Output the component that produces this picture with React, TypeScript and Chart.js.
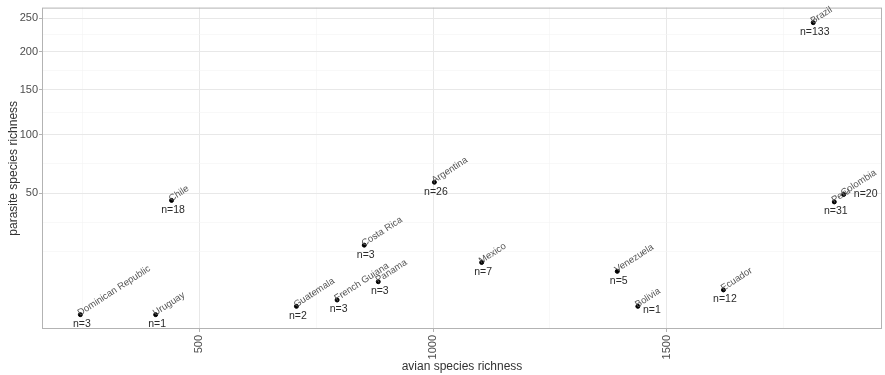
import React, { useEffect, useRef } from 'react';
import { Chart, registerables, LinearScale } from 'chart.js';

// ---- data ----
const countries = ['Dominican Republic', 'Uruguay', 'Chile', 'Guatemala', 'French Guiana', 'Costa Rica', 'Panama', 'Argentina', 'Mexico', 'Venezuela', 'Bolivia', 'Ecuador', 'Peru', 'Colombia', 'Brazil'];
const avianRichness = [246, 407, 441, 708, 795, 853, 883, 1003, 1104, 1394, 1438, 1621, 1858, 1878, 1813];
const parasiteRichness = [1, 1, 45, 2, 3, 20, 7, 58, 13, 10, 2, 5, 44, 49, 243];
const nStudies = [3, 1, 18, 2, 3, 3, 3, 26, 7, 5, 1, 12, 31, 20, 133];

const xMajorTicks = [500, 1000, 1500];
const yMajorTicks = [50, 100, 150, 200, 250];
const X_MIN = 164, X_MAX = 1960;
const Y_MIN = 0.08, Y_MAX = 267;

// label placement exceptions (center offsets of the n= label, px)
const N_LABEL_OFFSET: Record<string, [number, number]> = { Bolivia: [14, 4], Colombia: [22, 0] };

const FONT = '"Liberation Sans", Arial, Helvetica, sans-serif';

class SqrtScale extends LinearScale {
  static id = 'sqrt';
  static defaults = LinearScale.defaults;
  getPixelForValue(value: number) {
    const s0 = Math.sqrt(Math.max(0, this.min));
    const s1 = Math.sqrt(Math.max(0, this.max));
    const v = Math.sqrt(Math.max(0, value));
    return this.getPixelForDecimal((v - s0) / (s1 - s0));
  }
  getValueForPixel(pixel: number) {
    const s0 = Math.sqrt(Math.max(0, this.min));
    const s1 = Math.sqrt(Math.max(0, this.max));
    const d = this.getDecimalForPixel(pixel);
    const s = s0 + d * (s1 - s0);
    return s * s;
  }
}

Chart.register(...registerables, SqrtScale as any);

// ggplot-like minor breaks (midpoints in transformed space)
function minorBreaks(majors: number[], min: number, max: number, tf: (v: number) => number, inv: (v: number) => number) {
  const b = majors.map(tf);
  const bd = b[1] - b[0];
  if (tf(min) < b[0]) b.unshift(b[0] - bd);
  if (tf(max) > b[b.length - 1]) b.push(b[b.length - 1] + bd);
  const out: number[] = [];
  for (let i = 0; i < b.length - 1; i++) {
    out.push(b[i], (b[i] + b[i + 1]) / 2);
  }
  out.push(b[b.length - 1]);
  const tmin = tf(min), tmax = tf(max);
  return out.filter((v) => v >= tmin && v <= tmax).map(inv);
}

const isMajor = (v: number, majors: number[]) => majors.some((m) => Math.abs(m - v) < 1e-6);

const panelPlugin = {
  id: 'panelBorder',
  beforeDatasetsDraw(chart: any) {
    const { ctx, chartArea } = chart;
    ctx.save();
    ctx.strokeStyle = '#b3b3b3';
    ctx.lineWidth = 1;
    ctx.strokeRect(chartArea.left + 0.5, chartArea.top + 0.5, chartArea.right - chartArea.left - 1, chartArea.bottom - chartArea.top - 1);
    ctx.restore();
  },
};

const labelPlugin = {
  id: 'pointLabels',
  afterDatasetsDraw(chart: any) {
    const ctx = chart.ctx;
    const meta = chart.getDatasetMeta(0);
    meta.data.forEach((pt: any, i: number) => {
      const x = pt.x, y = pt.y;
      ctx.save();
      ctx.translate(x, y);
      ctx.rotate((-33 * Math.PI) / 180);
      ctx.font = `9.5px ${FONT}`;
      ctx.fillStyle = '#555555';
      ctx.textAlign = 'left';
      ctx.textBaseline = 'alphabetic';
      ctx.fillText(countries[i], -1, 1);
      ctx.restore();

      const off = N_LABEL_OFFSET[countries[i]] || [1.5, 9.5];
      ctx.save();
      ctx.font = `10.5px ${FONT}`;
      ctx.fillStyle = '#2a2a2a';
      ctx.textAlign = 'center';
      ctx.textBaseline = 'middle';
      ctx.fillText(`n=${nStudies[i]}`, x + off[0], y + off[1]);
      ctx.restore();
    });
  },
};

export default function App() {
  const ref = useRef<HTMLCanvasElement>(null);
  useEffect(() => {
    if (!ref.current) return;
    const xTicks = [...new Set([...minorBreaks(xMajorTicks, X_MIN, X_MAX, (v) => v, (v) => v), ...xMajorTicks])].sort((a, b) => a - b);
    const yTicks = minorBreaks(yMajorTicks, Y_MIN, Y_MAX, Math.sqrt, (v) => v * v).map((v) => {
      const m = yMajorTicks.find((t) => Math.abs(t - v) < 1e-6);
      return m !== undefined ? m : v;
    });
    const gridColor = (majors: number[]) => (c: any) => (c.tick && isMajor(c.tick.value, majors) ? '#e8e8e8' : '#f3f3f3');
    const gridWidth = (majors: number[]) => (c: any) => (c.tick && isMajor(c.tick.value, majors) ? 1 : 0.6);
    const tickColor = (majors: number[]) => (c: any) => (c.tick && isMajor(c.tick.value, majors) ? '#b3b3b3' : 'rgba(0,0,0,0)');

    const chart = new Chart(ref.current, {
      type: 'scatter',
      data: {
        datasets: [
          {
            data: avianRichness.map((x, i) => ({ x, y: parasiteRichness[i] })),
            backgroundColor: '#000',
            borderColor: '#000',
            pointRadius: 2,
            pointHoverRadius: 2,
          },
        ],
      },
      options: {
        animation: false,
        responsive: false,
        devicePixelRatio: 1,
        layout: { padding: { top: 5, right: 1, bottom: 0, left: 0 } },
        plugins: { legend: { display: false }, tooltip: { enabled: false } },
        events: [],
        scales: {
          x: {
            type: 'linear',
            min: X_MIN,
            max: X_MAX,
            afterBuildTicks: (s: any) => {
              s.ticks = xTicks.map((v) => ({ value: v }));
            },
            afterFit: (s: any) => {
              s.height = 46;
            },
            ticks: {
              autoSkip: false,
              minRotation: 90,
              maxRotation: 90,
              padding: 3,
              color: '#4d4d4d',
              font: { family: FONT, size: 11 },
              callback: (v: any) => (isMajor(Number(v), xMajorTicks) ? String(v) : ''),
            },
            grid: {
              color: gridColor(xMajorTicks),
              lineWidth: gridWidth(xMajorTicks),
              tickColor: tickColor(xMajorTicks),
              tickLength: 3,
              tickWidth: 1,
            },
            border: { display: false },
            title: {
              display: true,
              text: 'avian species richness',
              color: '#333333',
              font: { family: FONT, size: 12 },
              padding: { top: 0, bottom: 1 },
            },
          },
          y: {
            type: 'sqrt' as any,
            min: Y_MIN,
            max: Y_MAX,
            afterBuildTicks: (s: any) => {
              s.ticks = yTicks.map((v) => ({ value: v }));
            },
            afterFit: (s: any) => {
              s.width = 42;
            },
            ticks: {
              autoSkip: false,
              padding: 1,
              color: '#4d4d4d',
              font: { family: FONT, size: 11 },
              callback: (v: any) => (isMajor(Number(v), yMajorTicks) ? String(Math.round(Number(v))) : ''),
            },
            grid: {
              color: gridColor(yMajorTicks),
              lineWidth: gridWidth(yMajorTicks),
              tickColor: tickColor(yMajorTicks),
              tickLength: 3,
              tickWidth: 1,
            },
            border: { display: false },
            title: {
              display: true,
              text: 'parasite species richness',
              color: '#333333',
              font: { family: FONT, size: 12 },
              padding: { top: 6, bottom: 0 },
            },
          },
        },
      } as any,
      plugins: [panelPlugin, labelPlugin],
    });
    return () => chart.destroy();
  }, []);

  return (
    <div style={{ position: 'absolute', left: 0, top: 0, width: 885, height: 375, background: '#fff' }}>
      <canvas ref={ref} width={885} height={375} style={{ display: 'block', width: 885, height: 375 }} />
    </div>
  );
}
